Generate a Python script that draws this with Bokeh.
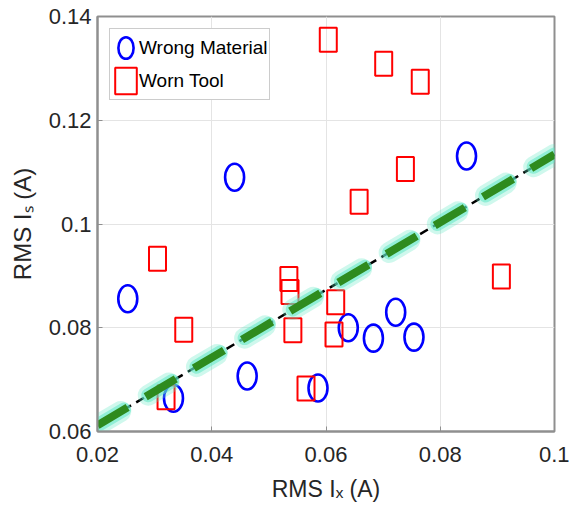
from bokeh.plotting import figure
from bokeh.models import FixedTicker, Legend, LegendItem, ColumnDataSource
from bokeh.embed import file_html
from bokeh.resources import INLINE

# ---- data ----
wm_x = [0.0253, 0.0440, 0.0846, 0.0333, 0.0462, 0.0639, 0.0683, 0.0722, 0.0754, 0.0586]
wm_y = [0.0856, 0.1090, 0.1131, 0.0664, 0.0707, 0.0800, 0.0780, 0.0830, 0.0782, 0.0684]

wt_x = [0.0604, 0.0701, 0.0765, 0.0739, 0.0658, 0.0305, 0.0351, 0.0320,
        0.0535, 0.0537, 0.0542, 0.0617, 0.0614, 0.0565, 0.0907]
wt_y = [0.1355, 0.1309, 0.1274, 0.1106, 0.1043, 0.0933, 0.0796, 0.0666,
        0.0894, 0.0869, 0.0795, 0.0849, 0.0787, 0.0683, 0.0899]

fit_x = [0.02, 0.1]
fit_y = [0.0612, 0.1134]

x_ticks = [0.02, 0.04, 0.06, 0.08, 0.1]
x_tick_labels = ["0.02", "0.04", "0.06", "0.08", "0.1"]
y_ticks = [0.06, 0.08, 0.10, 0.12, 0.14]
y_tick_labels = ["0.06", "0.08", "0.1", "0.12", "0.14"]

x_label = "RMS I\u2093 (A)"
y_label = "RMS I\u209B (A)"

# ---- layout ----
FW, FH = 457, 415
FONT = "Liberation Sans"
AX_GRAY = "#8f8f8f"
TXT = "#262626"

p = figure(output_backend="svg", toolbar_location=None,
           frame_width=FW, frame_height=FH,
           min_border_left=97, min_border_top=16, min_border_right=15, min_border_bottom=90,
           x_range=(0.02, 0.1), y_range=(0.06, 0.14))
p.background_fill_color = "white"
p.border_fill_color = "white"
p.outline_line_color = AX_GRAY
p.outline_line_width = 2

for ax, ticks, labels in ((p.xaxis[0], x_ticks, x_tick_labels), (p.yaxis[0], y_ticks, y_tick_labels)):
    ax.ticker = FixedTicker(ticks=ticks)
    ax.major_label_overrides = {t: l for t, l in zip(ticks, labels)}
    ax.minor_tick_line_color = None
    ax.major_tick_in = 5
    ax.major_tick_out = 0
    ax.major_tick_line_color = AX_GRAY
    ax.axis_line_color = AX_GRAY
    ax.axis_line_width = 2
    ax.major_label_text_font = FONT
    ax.major_label_text_font_size = "22px"
    ax.major_label_text_color = TXT
    ax.axis_label_text_font = FONT
    ax.axis_label_text_font_style = "normal"
    ax.axis_label_text_color = TXT

p.xaxis.axis_label = x_label
p.yaxis.axis_label = y_label
p.xaxis.major_label_standoff = 15
p.yaxis.major_label_standoff = 6
p.xaxis.axis_label_text_font_size = "23px"
p.yaxis.axis_label_text_font_size = "24px"
p.xaxis.axis_label_standoff = 11
p.yaxis.axis_label_standoff = 10

p.grid.grid_line_color = "#e4e4e4"
p.grid.grid_line_width = 1
p.xgrid.ticker = FixedTicker(ticks=x_ticks)
p.ygrid.ticker = FixedTicker(ticks=y_ticks)

wm_src = ColumnDataSource(dict(x=wm_x, y=wm_y))
wt_src = ColumnDataSource(dict(x=wt_x, y=wt_y))

r_wm = p.ellipse(x="x", y="y", width=19, height=27, width_units="screen", height_units="screen",
                 source=wm_src, fill_color=None, line_color="#0000ff", line_width=2.6)
r_wt = p.rect(x="x", y="y", width=17, height=24, width_units="screen", height_units="screen",
              source=wt_src, fill_color=None, line_color="#ff0000", line_width=2)

# fitted trend line: black dashed under a glowing green dashed line
p.line(fit_x, fit_y, line_color="black", line_width=2.5, line_dash="9 6")
p.line(fit_x, fit_y, line_color="#5fe8c4", line_alpha=0.3, line_width=21,
       line_dash="24 32", line_cap="round", line_dash_offset=-3)
p.line(fit_x, fit_y, line_color="#5fe8c4", line_alpha=0.55, line_width=14,
       line_dash="28 28", line_cap="round", line_dash_offset=-3)
p.line(fit_x, fit_y, line_color="#2e8b1e", line_width=8, line_dash="35 21")

legend = Legend(items=[LegendItem(label="Wrong Material", renderers=[r_wm]),
                       LegendItem(label="Worn Tool", renderers=[r_wt])],
                location="top_left", margin=12, padding=2, spacing=0,
                glyph_width=27, glyph_height=33, label_standoff=0,
                label_text_font=FONT, label_text_font_size="19px",
                label_text_color="black",
                border_line_color="#9a9a9a", border_line_width=1.5,
                background_fill_color="white", background_fill_alpha=1)
p.add_layout(legend, "center")

open("out.html", "w").write(file_html(p, INLINE))
